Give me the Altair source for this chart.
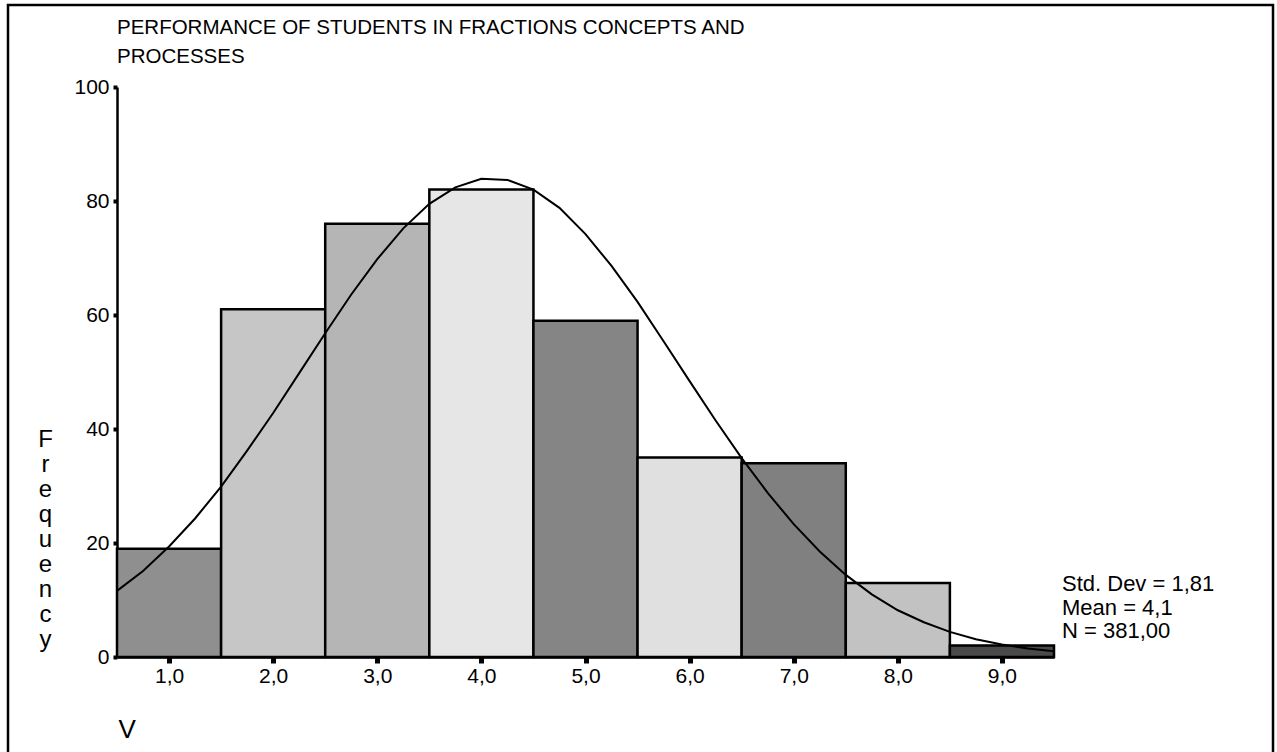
import altair as alt
import pandas as pd

FONT = "Liberation Sans"

title_lines = ["PERFORMANCE OF STUDENTS IN FRACTIONS CONCEPTS AND", "PROCESSES"]
bin_centers = [1, 2, 3, 4, 5, 6, 7, 8, 9]
frequencies = [19, 61, 76, 82, 59, 35, 34, 13, 2]
bar_shades = ["#8f8f8f", "#c6c6c6", "#b5b5b5", "#e6e6e6", "#858585",
              "#e0e0e0", "#808080", "#c2c2c2", "#4a4a4a"]

curve_x = [0.5, 0.75, 1.0, 1.25, 1.5, 1.75, 2.0, 2.25, 2.5, 2.75, 3.0, 3.25,
           3.5, 3.75, 4.0, 4.25, 4.5, 4.75, 5.0, 5.25, 5.5, 5.75, 6.0, 6.25,
           6.5, 6.75, 7.0, 7.25, 7.5, 7.75, 8.0, 8.25, 8.5, 8.75, 9.0, 9.25, 9.5]
curve_y = [11.6, 15.1, 19.4, 24.3, 29.9, 36.2, 42.8, 49.8, 56.8, 63.6, 69.8, 75.2,
           79.5, 82.4, 83.9, 83.7, 82.0, 78.8, 74.2, 68.6, 62.3, 55.4, 48.4, 41.5,
           34.9, 28.8, 23.3, 18.5, 14.4, 11.0, 8.2, 6.1, 4.4, 3.1, 2.2, 1.5, 1.0]

stats_lines = ["Std. Dev = 1,81", "Mean = 4,1", "N = 381,00"]
x_ticks = [1, 2, 3, 4, 5, 6, 7, 8, 9]
y_ticks = [0, 20, 40, 60, 80, 100]
y_title = list("Frequency")
x_title = "V"

bars_df = pd.DataFrame({"center": bin_centers, "freq": frequencies, "shade": bar_shades})
bars_df["x0"] = bars_df["center"] - 0.5
bars_df["x1"] = bars_df["center"] + 0.5
curve_df = pd.DataFrame({"x": curve_x, "y": curve_y})

W, H = 937, 570
LEFT, TOP = 117, 87

x_scale = alt.Scale(domain=[0.5, 9.5], nice=False, zero=False)
y_scale = alt.Scale(domain=[0, 100], nice=False)

x_axis = alt.Axis(
    values=x_ticks, labelExpr="replace(format(datum.value, '.1f'), '.', ',')",
    grid=False, tickSize=6, tickWidth=5, tickColor="black",
    domainColor="black", domainWidth=2.5,
    labelFont=FONT, labelFontSize=21, labelColor="black", labelPadding=2,
    title=x_title, titleX=1, titleY=80, titleAngle=0, titleAlign="left",
    titleBaseline="alphabetic", titleFont=FONT, titleFontSize=26,
    titleFontWeight="normal", titleColor="black",
)
y_axis = alt.Axis(
    values=y_ticks, grid=False, tickSize=4, tickWidth=4, tickColor="black",
    domainColor="black", domainWidth=2.5,
    labelFont=FONT, labelFontSize=21, labelColor="black", labelPadding=4,
    title=y_title, titleX=-72, titleY=359, titleAngle=0, titleAlign="center",
    titleBaseline="alphabetic", titleLineHeight=25, titleFont=FONT,
    titleFontSize=24, titleFontWeight="normal", titleColor="black",
)

bars = alt.Chart(bars_df).mark_bar(stroke="black", strokeWidth=2.5).encode(
    x=alt.X("x0:Q", scale=x_scale, axis=x_axis),
    x2="x1:Q",
    y=alt.Y("freq:Q", scale=y_scale, axis=y_axis),
    y2=alt.datum(0),
    fill=alt.Fill("shade:N", scale=None, legend=None),
)

curve = alt.Chart(curve_df).mark_line(color="black", strokeWidth=2).encode(
    x=alt.X("x:Q", scale=x_scale),
    y=alt.Y("y:Q", scale=y_scale),
)

stats = alt.Chart(alt.Data(values=[{}])).mark_text(
    text=stats_lines, align="left", baseline="top", font=FONT, fontSize=22,
    lineHeight=23.5, color="black",
).encode(x=alt.value(945), y=alt.value(487))

title = alt.Chart(alt.Data(values=[{}])).mark_text(
    text=title_lines, align="left", baseline="alphabetic", font=FONT, fontSize=20.5,
    lineHeight=29, color="black",
).encode(x=alt.value(0), y=alt.value(34 - TOP))

frame = alt.Chart(alt.Data(values=[{}])).mark_rect(
    fillOpacity=0, stroke="black", strokeWidth=2.5,
).encode(x=alt.value(8 - LEFT), x2=alt.value(1273 - LEFT),
         y=alt.value(5 - TOP), y2=alt.value(780 - TOP))

chart = alt.layer(frame, bars, curve, stats, title).properties(
    width=W, height=H,
    autosize=alt.AutoSizeParams(type="none"),
    padding={"left": LEFT, "top": TOP, "right": 1277 - LEFT - W, "bottom": 752 - TOP - H},
    background="white",
).configure_view(strokeWidth=0)

chart.save("out.html", embed_options={"renderer": "svg", "actions": False})
